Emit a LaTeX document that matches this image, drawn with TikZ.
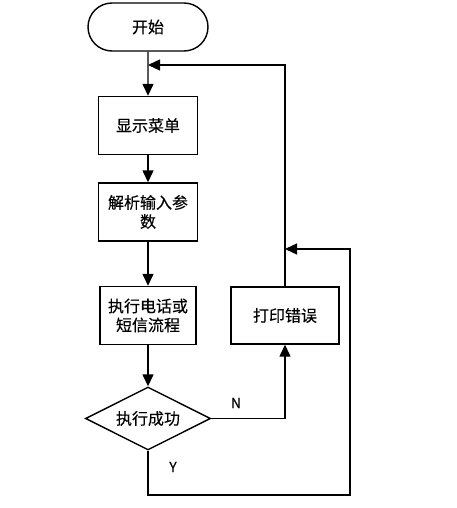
\documentclass[tikz,border=0pt]{standalone}
\usepackage{fontspec}
\setmainfont{Noto Sans CJK SC}
\newfontfamily\medf{Noto Sans CJK SC}[FakeBold=0.25]
\usetikzlibrary{shapes.misc,shapes.geometric,arrows.meta}
\begin{document}
\begin{tikzpicture}[x=1pt,y=-1pt,
  base/.style={draw,line width=1.4pt,font=\medf\fontsize{16}{19}\selectfont,align=center,inner sep=0pt},
  term/.style={base,rounded rectangle,minimum width=120pt,minimum height=48pt},
  proc/.style={base,rectangle,minimum width=99pt,minimum height=58pt},
  dec/.style={base,diamond,aspect=2,minimum width=125pt,minimum height=63pt},
  arr/.style={line width=1.4pt,-{Triangle[length=12pt,width=11pt]}},
  lbl/.style={font=\medf\fontsize{14}{16}\selectfont}]
\useasboundingbox (0,0) rectangle (456,508);
\node[term] (start) at (148,27) {开始};
\node[proc] (menu) at (148,125.5) {显示菜单};
\node[proc] (parse) at (148,212) {解析输入参\\数};
\node[proc,minimum width=96pt] (exec) at (148,315.5) {执行电话或\\短信流程};
\node[dec] (ok) at (148,418.5) {执行成功};
\node[proc,minimum width=108pt,minimum height=57pt] (err) at (285,315.5) {打印错误};
\coordinate (m1) at (148,65);
\coordinate (m2) at (285,249);
\coordinate (yb) at (350,495);
\coordinate (nb) at (285,418.5);
\draw[arr] (start) -- (menu);
\draw[arr] (menu) -- (parse);
\draw[arr] (parse) -- (exec);
\draw[arr] (exec) -- (ok);
\draw[arr] (ok.east) -- (nb) -- (err.south);
\draw[arr] (err.north) |- (m1);
\draw[arr] (ok.south) |- (yb) |- (m2);
\node[lbl] (nl) at (236,403) {N};
\node[lbl] (yl) at (173,467) {Y};
\end{tikzpicture}
\end{document}
